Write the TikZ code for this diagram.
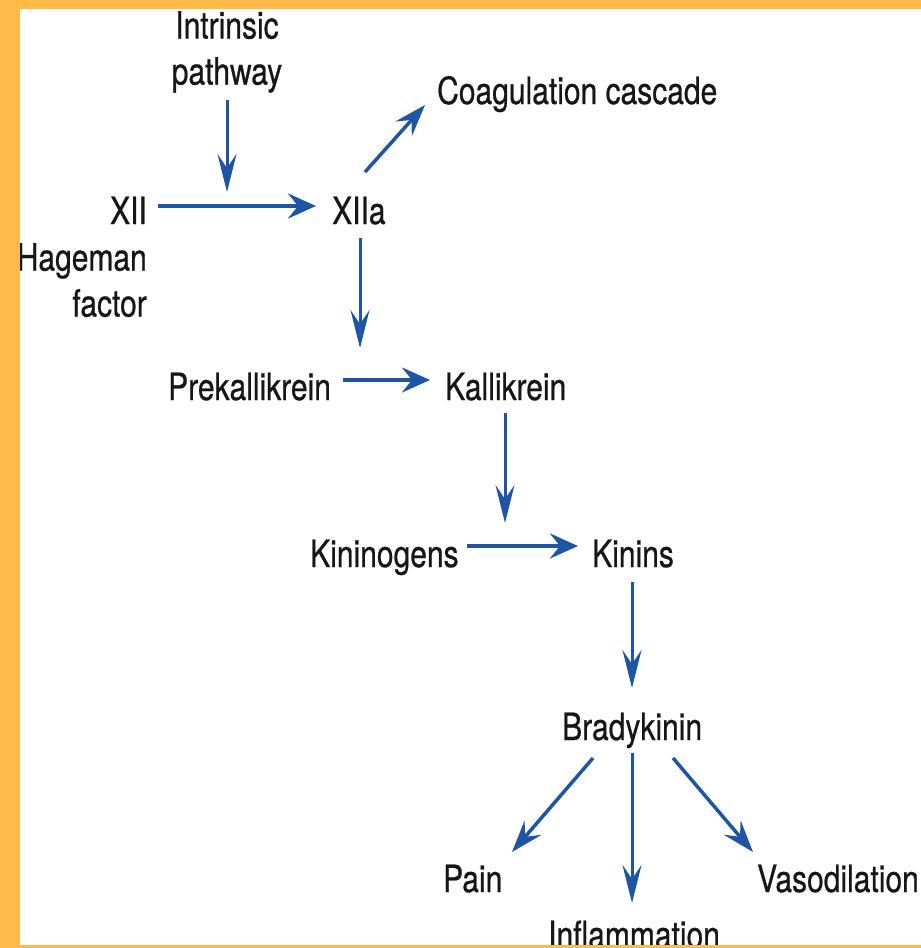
\documentclass[tikz,border=0pt]{standalone}
\usepackage{fontspec}
\setmainfont[FakeStretch=0.8,FakeBold=0.6]{TeX Gyre Heros}
\usetikzlibrary{arrows.meta}
\definecolor{frameorange}{HTML}{FFBA4A}
\definecolor{arrowblue}{HTML}{1F55A5}
\definecolor{inkblack}{HTML}{161616}
\tikzset{
  lbl/.style={font=\fontsize{37.5}{46}\selectfont, text=inkblack, inner sep=0pt},
  arrh/.style={draw=arrowblue, line width=4pt, -{Stealth[length=28pt,width=25pt,inset=10pt]}},
  arrv/.style={draw=arrowblue, line width=3pt, -{Stealth[length=38pt,width=19pt,inset=14pt]}},
  arrd/.style={draw=arrowblue, line width=3.5pt, -{Stealth[length=32pt,width=22pt,inset=12pt]}}
}
\begin{document}
\begin{tikzpicture}[x=1pt,y=-1pt]
\useasboundingbox (0,0) rectangle (921,948);
\fill[white] (0,0) rectangle (921,948);

\node[lbl,align=center,anchor=north] (intr) at (227,11) {Intrinsic\\pathway};
\node[lbl,anchor=base east] (xii) at (147,224) {XII};
\node[lbl,align=right,anchor=north east] (hag) at (147,243) {Hageman\\factor};
\node[lbl,anchor=base west] (xiia) at (332,224) {XIIa};
\node[lbl,anchor=base west] (coag) at (437,104) {Coagulation cascade};
\node[lbl,anchor=base west] (prek) at (168,400) {Prekallikrein};
\node[lbl,anchor=base west] (kall) at (445,400) {Kallikrein};
\node[lbl,anchor=base west] (kinog) at (310,567) {Kininogens};
\node[lbl,anchor=base west] (kinins) at (592,567) {Kinins};
\node[lbl,anchor=base west] (brady) at (562,740) {Bradykinin};
\node[lbl,anchor=base west] (pain) at (443,892) {Pain};
\node[lbl,anchor=base west] (vaso) at (757,892) {Vasodilation};
\node[lbl,anchor=base west] (infl) at (548,948) {Inflammation};

\coordinate (j1) at (227,192);
\coordinate (j2) at (360,348);
\coordinate (j3) at (505,523);

\draw[arrv] ([yshift=-7pt]intr.south) -- (j1);
\draw[arrh] ([shift={(11,-18)}]xii.base east) -- ([shift={(-16,-18)}]xiia.base west);
\draw[arrd] ([shift={(33,-52)}]xiia.base west) -- ([shift={(-12,1)}]coag.base west);
\draw[arrv] ([shift={(28,14)}]xiia.base west) -- (j2);
\draw[arrh] ([shift={(175,-20)}]prek.base west) -- ([shift={(-15,-20)}]kall.base west);
\draw[arrv] ([shift={(60,13)}]kall.base west) -- (j3);
\draw[arrh] ([shift={(157,-21)}]kinog.base west) -- ([shift={(-14,-21)}]kinins.base west);
\draw[arrv] ([shift={(40,15)}]kinins.base west) -- ([shift={(70,-52)}]brady.base west);
\draw[arrd] ([shift={(31,18)}]brady.base west) -- ([shift={(69,-40)}]pain.base west);
\draw[arrv] ([shift={(70,13)}]brady.base west) -- ([shift={(84,-45)}]infl.base west);
\draw[arrd] ([shift={(111,18)}]brady.base west) -- ([shift={(-4,-40)}]vaso.base west);

\fill[frameorange] (0,0) rectangle (20,948);
\fill[frameorange] (0,0) rectangle (921,9);
\fill[frameorange] (0,945) rectangle (921,948);
\end{tikzpicture}
\end{document}
